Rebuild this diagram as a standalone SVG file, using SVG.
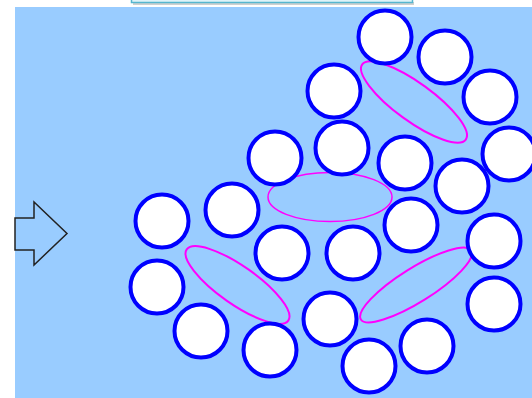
<svg xmlns="http://www.w3.org/2000/svg" width="532" height="398" viewBox="0 0 532 398">
  <style>
    .c { fill: #ffffff; stroke: #0000ff; stroke-width: 4; }
    .e { fill: none; stroke: #ff00ff; stroke-width: 2; }
    .e4 { fill: none; stroke: #ff00ff; stroke-width: 1.5; }
  </style>
  <rect x="0" y="0" width="532" height="398" fill="#ffffff"/>
  <rect x="15" y="7" width="517" height="391" fill="#99ccff"/>
  <g id="topbox">
    <rect x="133" y="2" width="281" height="3" fill="#b0b0b0" opacity="0.6"/>
    <rect x="131.5" y="-10" width="281" height="12.5" fill="#dff3f9" stroke="#56b6cf" stroke-width="1.5"/>
  </g>
  <g id="arrow">
    <polygon points="15,218 34,218 34,202 67,233.5 34,265 34,250 15,250" fill="none" stroke="#222222" stroke-width="1.5" stroke-linejoin="miter"/>
  </g>
  <g id="ellipses">
    <g id="ell1"><ellipse class="e" cx="0" cy="0" rx="64" ry="19" transform="translate(414,102) rotate(36)"/></g>
    <g id="ell2"><ellipse class="e" cx="0" cy="0" rx="62" ry="19" transform="translate(237.5,285) rotate(35)"/></g>
    <g id="ell3"><ellipse class="e" cx="0" cy="0" rx="65" ry="17" transform="translate(416,285) rotate(-32)"/></g>
    <g id="ell4"><ellipse class="e4" cx="330" cy="197" rx="62" ry="24.5"/></g>
  </g>
  <g id="circles">
    <g id="c1"><circle class="c" cx="385" cy="37" r="26.5"/></g>
    <g id="c2"><circle class="c" cx="445" cy="57" r="26.5"/></g>
    <g id="c3"><circle class="c" cx="334" cy="91" r="26.5"/></g>
    <g id="c4"><circle class="c" cx="490" cy="97" r="26.5"/></g>
    <g id="c5"><circle class="c" cx="342" cy="148" r="26.5"/></g>
    <g id="c6"><circle class="c" cx="275" cy="158" r="26.5"/></g>
    <g id="c7"><circle class="c" cx="405" cy="163" r="26.5"/></g>
    <g id="c8"><circle class="c" cx="509" cy="154" r="26.5"/></g>
    <g id="c9"><circle class="c" cx="462" cy="186" r="26.5"/></g>
    <g id="c10"><circle class="c" cx="232" cy="210" r="26.5"/></g>
    <g id="c11"><circle class="c" cx="162" cy="221" r="26.5"/></g>
    <g id="c12"><circle class="c" cx="411" cy="225" r="26.5"/></g>
    <g id="c13"><circle class="c" cx="282" cy="253" r="26.5"/></g>
    <g id="c14"><circle class="c" cx="353" cy="253" r="26.5"/></g>
    <g id="c15"><circle class="c" cx="494" cy="241" r="26.5"/></g>
    <g id="c16"><circle class="c" cx="157" cy="287" r="26.5"/></g>
    <g id="c17"><circle class="c" cx="494" cy="304" r="26.5"/></g>
    <g id="c18"><circle class="c" cx="201" cy="331" r="26.5"/></g>
    <g id="c19"><circle class="c" cx="330" cy="319" r="26.5"/></g>
    <g id="c20"><circle class="c" cx="427" cy="346" r="26.5"/></g>
    <g id="c21"><circle class="c" cx="270" cy="350" r="26.5"/></g>
    <g id="c22"><circle class="c" cx="369" cy="366" r="26.5"/></g>
  </g>
</svg>
